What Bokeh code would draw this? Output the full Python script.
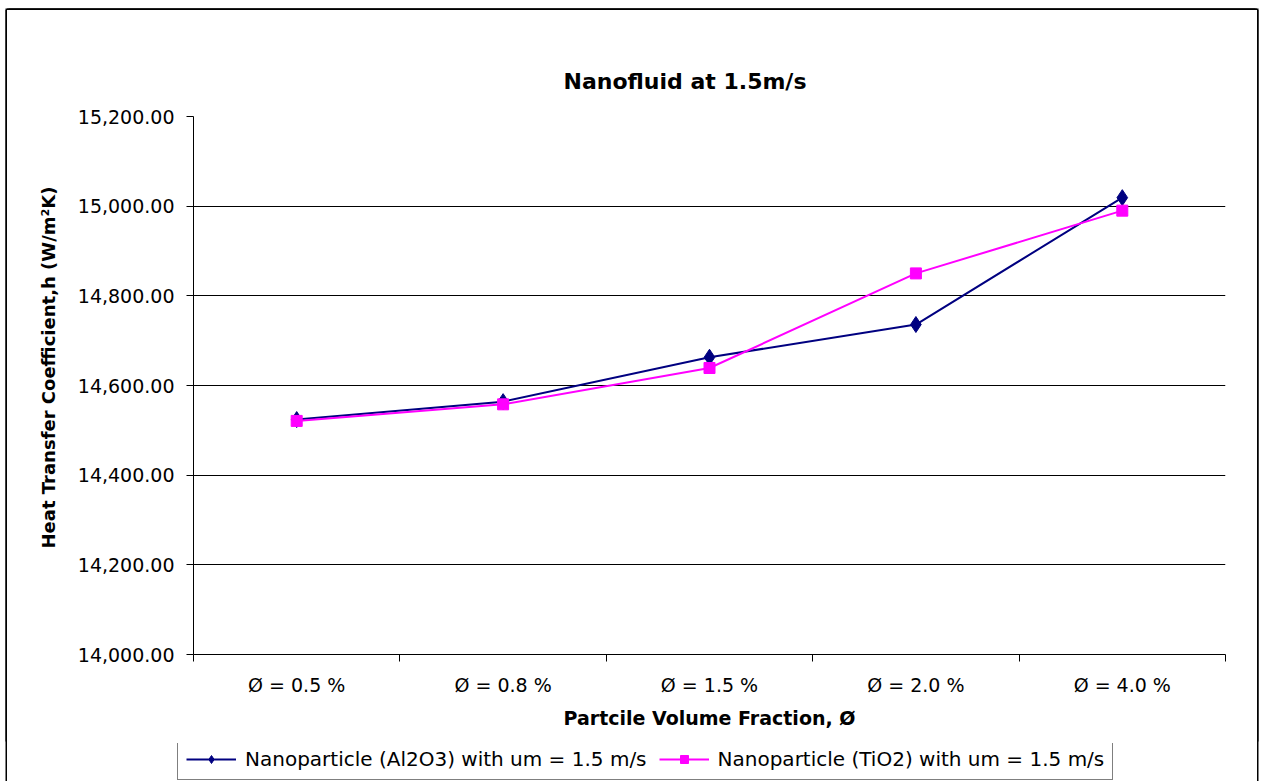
from bokeh.plotting import figure
from bokeh.models import (Range1d, FixedTicker, NumeralTickFormatter,
                          Legend, LegendItem, Title)
from bokeh.embed import file_html
from bokeh.resources import INLINE

# Particle volume fraction categories and heat transfer coefficients (W/m²K)
categories = ["Ø = 0.5 %", "Ø = 0.8 %", "Ø = 1.5 %", "Ø = 2.0 %", "Ø = 4.0 %"]
al2o3 = [14524, 14564, 14663, 14736, 15019]
tio2 = [14521, 14558, 14639, 14850, 14990]
y_ticks = [14000, 14200, 14400, 14600, 14800, 15000, 15200]
series_names = ["Nanoparticle (Al2O3) with um = 1.5 m/s",
                "Nanoparticle (TiO2) with um = 1.5 m/s"]

FONT = "DejaVu Sans"
BLUE, PINK = "#000080", "#FF00FF"

# category centres on a numeric axis, boundaries get the tick marks
xc = [i + 0.5 for i in range(len(categories))]
bounds = list(range(len(categories) + 1))

# chart border drawn on left, top and right sides
frame_css = {"box-shadow": ("-1.5px 0 0 0 black, 1.5px 0 0 0 black, 0 -1.5px 0 0 black, "
                            "-1.5px -1.5px 0 0 black, 1.5px -1.5px 0 0 black")}

p = figure(width=1250, height=733, output_backend="svg", toolbar_location=None,
           x_range=Range1d(0, len(categories)), y_range=Range1d(y_ticks[0], y_ticks[-1]),
           min_border_left=186, min_border_right=32, min_border_top=106,
           min_border_bottom=89, margin=(10, 7, 0, 7), styles=frame_css)
p.background_fill_color = "white"
p.border_fill_color = "white"
p.outline_line_color = None

# chart title
p.title.text = "Nanofluid at 1.5m/s"
p.title.align = "left"
p.title.offset = 370
p.title.text_font = FONT
p.title.text_font_style = "bold"
p.title.text_font_size = "22px"
p.title.text_color = "black"
p.title.standoff = 46

# y axis
p.yaxis.ticker = FixedTicker(ticks=y_ticks)
p.yaxis.formatter = NumeralTickFormatter(format="0,0.00")
p.yaxis.major_label_text_font = FONT
p.yaxis.major_label_text_font_size = "19px"
p.yaxis.major_label_text_color = "black"
p.yaxis.major_tick_out = 7
p.yaxis.major_tick_in = 0
p.yaxis.minor_tick_line_color = None
p.yaxis.major_label_standoff = 12
p.yaxis.axis_line_color = "black"
p.yaxis.major_tick_line_color = "black"

# y axis title, set a little above the frame's middle
p.add_layout(Title(text="Heat Transfer Coefficient,h (W/m²K)", align="left",
                   offset=106, vertical_align="middle", standoff=29,
                   text_font=FONT, text_font_style="bold", text_font_size="18px",
                   text_color="black"), "left")

# x axis: labels at centres, ticks on category boundaries
p.xaxis.ticker = FixedTicker(ticks=xc, minor_ticks=bounds)
p.xaxis.major_label_overrides = {x: c for x, c in zip(xc, categories)}
p.xaxis.major_label_text_font = FONT
p.xaxis.major_label_text_font_size = "19px"
p.xaxis.major_label_text_color = "black"
p.xaxis.major_tick_line_color = None
p.xaxis.major_tick_out = 7
p.xaxis.major_tick_in = 0
p.xaxis.minor_tick_line_color = "black"
p.xaxis.minor_tick_out = 7
p.xaxis.minor_tick_in = 0
p.xaxis.major_label_standoff = 12
p.xaxis.axis_line_color = "black"
p.xaxis.axis_label = "Partcile Volume Fraction, Ø"
p.xaxis.axis_label_text_font = FONT
p.xaxis.axis_label_text_font_style = "bold"
p.xaxis.axis_label_text_font_size = "19px"
p.xaxis.axis_label_text_color = "black"
p.xaxis.axis_label_standoff = 8

p.xgrid.grid_line_color = None
p.ygrid.grid_line_color = "black"
p.ygrid.grid_line_width = 1

# series
p.line(xc, al2o3, line_color=BLUE, line_width=2)
p.scatter(xc, al2o3, marker="diamond", size=16, fill_color=BLUE, line_color=BLUE)
p.line(xc, tio2, line_color=PINK, line_width=2)
p.scatter(xc, tio2, marker="square", size=11, fill_color=PINK, line_color=PINK)

# legend strip under the chart; its sample glyphs sit outside the visible range
side_css = {"box-shadow": "-1.5px 0 0 0 black, 1.5px 0 0 0 black"}
lg = figure(width=1250, height=38, output_backend="svg", toolbar_location=None,
            x_range=Range1d(0, 1), y_range=Range1d(0, 1),
            x_axis_type=None, y_axis_type=None, min_border=0,
            min_border_left=0, min_border_right=0, min_border_top=0,
            min_border_bottom=0, margin=(0, 7, 0, 7), styles=side_css)
lg.outline_line_color = None
lg.background_fill_color = "white"
lg.border_fill_color = "white"
lg.grid.grid_line_color = None
items = []
for name, color, marker, size in [(series_names[0], BLUE, "diamond", 16),
                                  (series_names[1], PINK, "square", 11)]:
    ln = lg.line([-5, -4], [-5, -4], line_color=color, line_width=2)
    mk = lg.scatter([-5], [-5], marker=marker, size=size, fill_color=color,
                    line_color=color)
    items.append(LegendItem(label=name, renderers=[ln, mk]))

legend = Legend(items=items, orientation="horizontal", location=(170, 1))
legend.label_text_font = FONT
legend.label_text_font_size = "20px"
legend.label_text_color = "black"
legend.glyph_width = 50
legend.glyph_height = 20
legend.label_height = 20
legend.label_standoff = 9
legend.spacing = 12
legend.padding = 8
legend.margin = 0
legend.border_line_color = "black"
legend.border_line_width = 1
legend.background_fill_color = "white"
legend.background_fill_alpha = 1
lg.add_layout(legend)

open("out.html", "w").write(file_html([p, lg], INLINE))
